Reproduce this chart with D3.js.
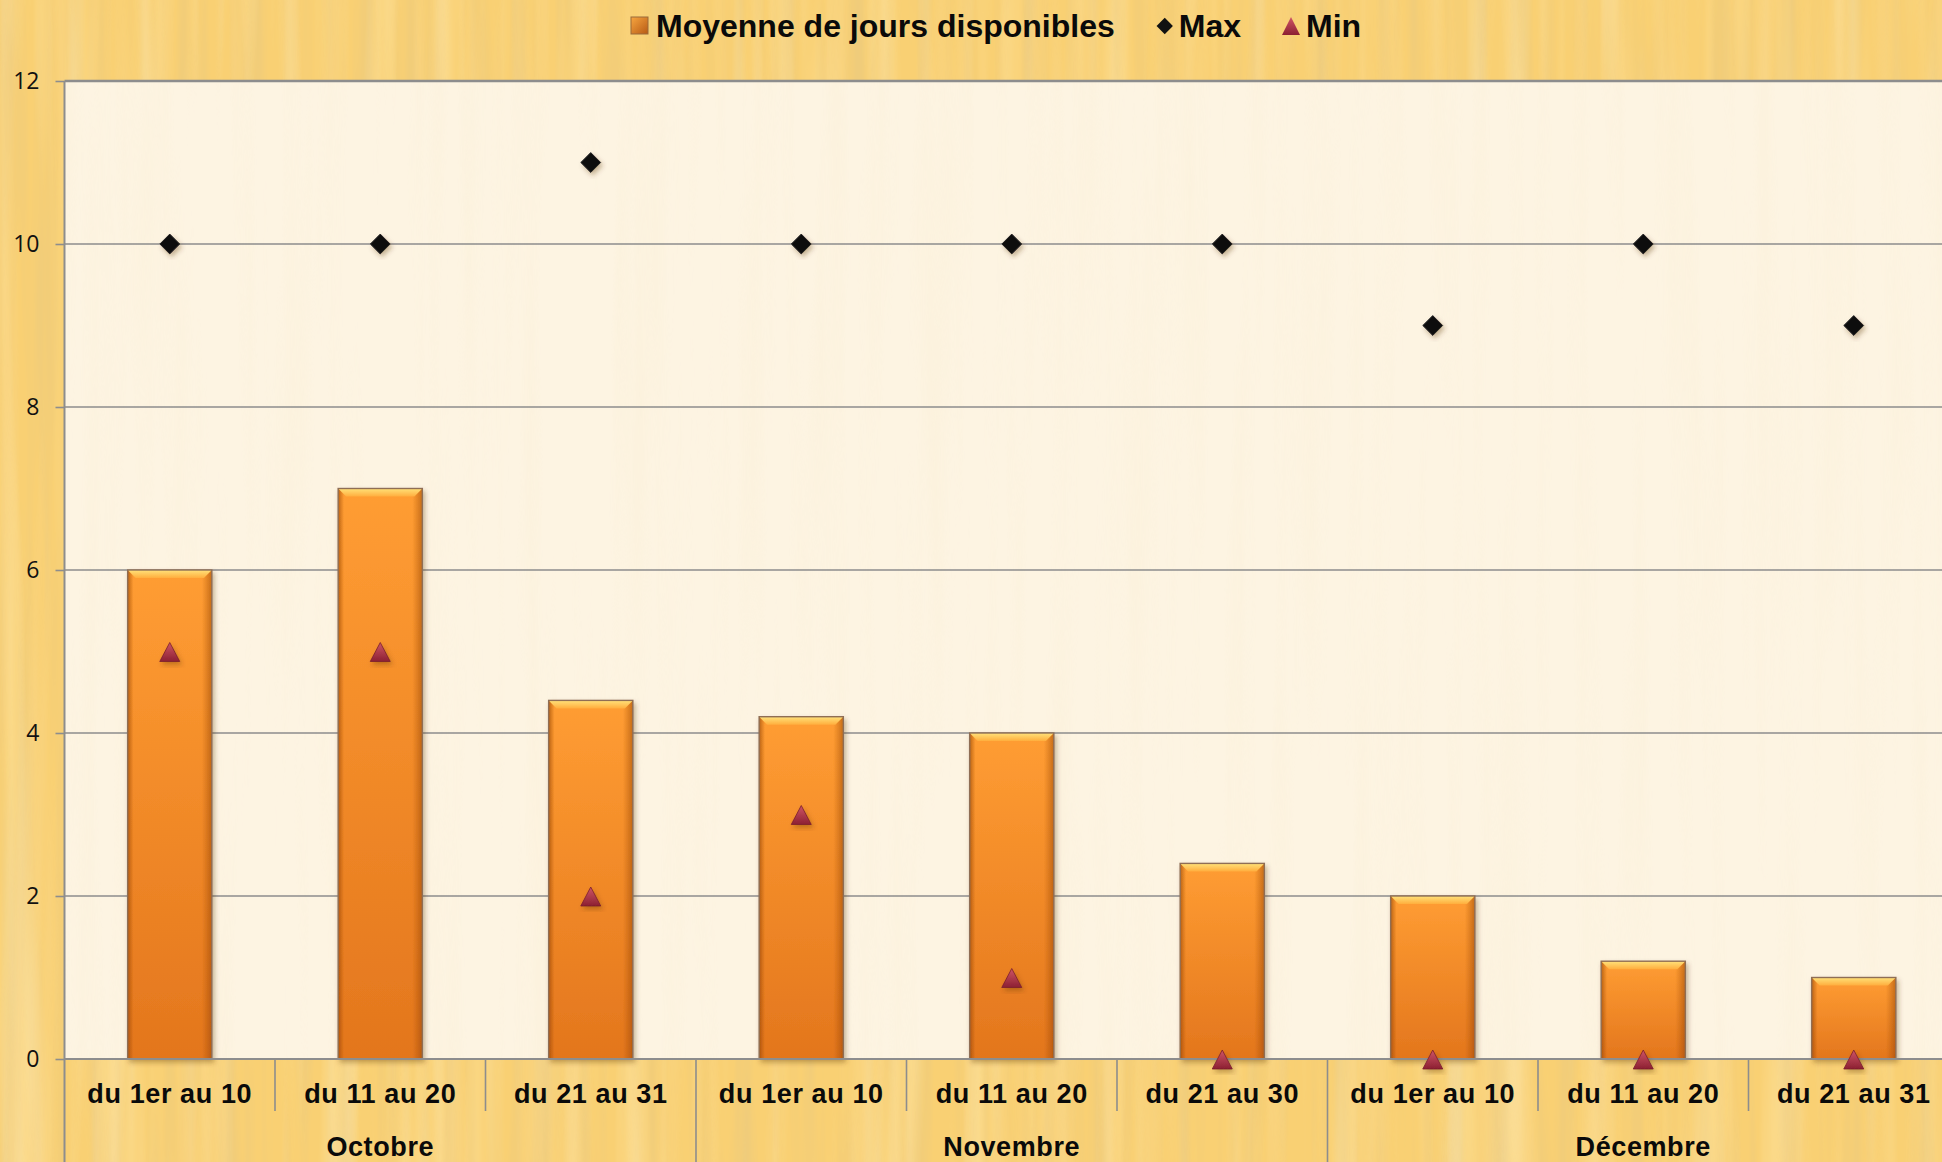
<!DOCTYPE html>
<html>
<head>
<meta charset="utf-8">
<script src="https://cdn.jsdelivr.net/npm/d3@7"></script>
<style>
  body { margin: 0; overflow: hidden; background: #f9d073; }
  svg { display: block; }
  .cat-label { font-family: "Liberation Sans", Arial, sans-serif; font-weight: bold; font-size: 27px; letter-spacing: 0.6px; fill: #0a0a0a; }
  .legend text { font-family: "Liberation Sans", Arial, sans-serif; font-weight: bold; font-size: 32px; fill: #0a0a0a; }
  .y-axis text { font-family: "Open Sans", sans-serif; font-size: 23px; fill: #111; }
</style>
</head>
<body>
<svg id="chart" width="1942" height="1162"></svg>
<script>
// chart data
const categories = ['du 1er au 10', 'du 11 au 20', 'du 21 au 31',
                    'du 1er au 10', 'du 11 au 20', 'du 21 au 30',
                    'du 1er au 10', 'du 11 au 20', 'du 21 au 31'];
const months = ['Octobre', 'Novembre', 'Décembre'];
const moyenne = [6, 7, 4.4, 4.2, 4, 2.4, 2, 1.2, 1];
const maxVals = [10, 10, 11, 10, 10, 10, 9, 10, 9];
const minVals = [5, 5, 2, 3, 1, 0, 0, 0, 0];
const yTicks = [0, 2, 4, 6, 8, 10, 12];
const legendNames = ['Moyenne de jours disponibles', 'Max', 'Min'];

const W = 1942, H = 1162;
const margin = { left: 64.5, top: 81, zero: 1059 };
const step = 210.5;

const svg = d3.select('#chart');
const defs = svg.append('defs');

// wood grain texture
function grainFilter(id, freq, seed, rgb, a, b) {
    const f = defs.append('filter').attr('id', id)
        .attr('x', 0).attr('y', 0).attr('width', '100%').attr('height', '100%')
        .attr('filterUnits', 'userSpaceOnUse');
    f.append('feTurbulence').attr('type', 'fractalNoise')
        .attr('baseFrequency', freq).attr('numOctaves', 3).attr('seed', seed);
    f.append('feColorMatrix').attr('type', 'matrix')
        .attr('values', `0 0 0 0 ${rgb[0]}  0 0 0 0 ${rgb[1]}  0 0 0 0 ${rgb[2]}  ${a} 0 0 0 ${b}`);
}
grainFilter('grainDark', '0.045 0.0018', 7, [0.80, 0.58, 0.22], 1.5, -0.68);
grainFilter('grainLight', '0.03 0.0012', 3, [1, 0.86, 0.5], 1.0, -0.5);
grainFilter('grainPlot', '0.04 0.0015', 11, [0.93, 0.82, 0.6], 1.0, -0.45);

// bar gradients
const gV = defs.append('linearGradient').attr('id', 'barV').attr('x1', 0).attr('y1', 0).attr('x2', 0).attr('y2', 1);
gV.append('stop').attr('offset', '0%').attr('stop-color', '#ff9d33');
gV.append('stop').attr('offset', '100%').attr('stop-color', '#e3761d');

const gH = defs.append('linearGradient').attr('id', 'barH').attr('x1', 0).attr('y1', 0).attr('x2', 1).attr('y2', 0);
[['0%', '#8a3c00', 0.6], ['7%', '#a04800', 0.0], ['88%', '#a04800', 0.0], ['100%', '#8a3c00', 0.5]]
    .forEach(s => gH.append('stop').attr('offset', s[0]).attr('stop-color', s[1]).attr('stop-opacity', s[2]));

const gTop = defs.append('linearGradient').attr('id', 'barTop').attr('x1', 0).attr('y1', 0).attr('x2', 0).attr('y2', 1);
gTop.append('stop').attr('offset', '0%').attr('stop-color', '#ffe27a');
gTop.append('stop').attr('offset', '100%').attr('stop-color', '#ffae3e');

const gTri = defs.append('linearGradient').attr('id', 'triFill').attr('x1', 0).attr('y1', 0).attr('x2', 0).attr('y2', 1);
gTri.append('stop').attr('offset', '0%').attr('stop-color', '#cf5566');
gTri.append('stop').attr('offset', '100%').attr('stop-color', '#8c2032');

const gSw = defs.append('linearGradient').attr('id', 'swatch').attr('x1', 0).attr('y1', 0).attr('x2', 1).attr('y2', 1);
gSw.append('stop').attr('offset', '0%').attr('stop-color', '#f7a640');
gSw.append('stop').attr('offset', '100%').attr('stop-color', '#b75a14');

const shadow = defs.append('filter').attr('id', 'shadow').attr('x', '-30%').attr('y', '-30%').attr('width', '160%').attr('height', '160%');
shadow.append('feDropShadow').attr('dx', 2).attr('dy', 3).attr('stdDeviation', 2.5)
    .attr('flood-color', '#5a3000').attr('flood-opacity', 0.35);

// background
svg.append('rect').attr('width', W).attr('height', H).attr('fill', '#f9d073');
svg.append('rect').attr('width', W).attr('height', H).attr('filter', 'url(#grainDark)');
svg.append('rect').attr('width', W).attr('height', H).attr('filter', 'url(#grainLight)');

// scales
const x = d3.scaleBand()
    .domain(d3.range(categories.length))
    .range([margin.left, margin.left + step * categories.length])
    .paddingInner(0.6).paddingOuter(0.3);
const y = d3.scaleLinear().domain([0, 12]).range([margin.zero, margin.top]);

// plot area
svg.append('rect').attr('x', margin.left).attr('y', y(12))
    .attr('width', W - margin.left).attr('height', y(0) - y(12)).attr('fill', '#fdf4e2');
svg.append('rect').attr('x', margin.left).attr('y', y(12))
    .attr('width', W - margin.left).attr('height', y(0) - y(12))
    .attr('filter', 'url(#grainPlot)').attr('opacity', 0.45);

// gridlines
svg.append('g').selectAll('line')
    .data(yTicks)
    .enter().append('line')
    .attr('x1', margin.left).attr('x2', W)
    .attr('y1', d => y(d)).attr('y2', d => y(d))
    .attr('stroke', '#8d8d8d').attr('stroke-width', d => d === 12 ? 2.5 : 1.6);

// y axis
const yAxis = svg.append('g').attr('class', 'y-axis')
    .attr('transform', `translate(${margin.left},0)`)
    .call(d3.axisLeft(y).tickValues(yTicks).tickSize(9).tickPadding(16));
yAxis.select('.domain').remove();
yAxis.selectAll('line').attr('stroke', '#8d8d8d').attr('stroke-width', 1.6);

svg.append('line')
    .attr('x1', margin.left).attr('x2', margin.left)
    .attr('y1', y(12)).attr('y2', H)
    .attr('stroke', '#8d8d8d').attr('stroke-width', 2);

// category separators
svg.append('g').selectAll('line')
    .data(d3.range(1, categories.length + 1))
    .enter().append('line')
    .attr('x1', i => margin.left + i * step).attr('x2', i => margin.left + i * step)
    .attr('y1', y(0)).attr('y2', i => i % 3 === 0 ? H : y(0) + 52)
    .attr('stroke', '#8d8d8d').attr('stroke-width', 1.6);

// bars
const bars = svg.append('g').selectAll('g')
    .data(moyenne)
    .enter().append('g')
    .attr('filter', 'url(#shadow)');

bars.append('rect')
    .attr('x', (d, i) => x(i)).attr('y', d => y(d))
    .attr('width', x.bandwidth()).attr('height', d => y(0) - y(d))
    .attr('fill', 'url(#barV)');
bars.append('rect')
    .attr('x', (d, i) => x(i)).attr('y', d => y(d))
    .attr('width', x.bandwidth()).attr('height', d => y(0) - y(d))
    .attr('fill', 'url(#barH)');
bars.append('polygon')
    .attr('points', (d, i) => {
        const x0 = x(i), x1 = x(i) + x.bandwidth(), t = y(d), b = 8;
        return [[x0, t], [x1, t], [x1 - b, t + b], [x0 + b, t + b]].join(' ');
    })
    .attr('fill', 'url(#barTop)');
bars.append('rect')
    .attr('x', (d, i) => x(i)).attr('y', d => y(d))
    .attr('width', x.bandwidth()).attr('height', d => y(0) - y(d))
    .attr('fill', 'none').attr('stroke', '#8f6e55').attr('stroke-width', 1.4);

// zero line on top of bars
svg.append('line')
    .attr('x1', margin.left).attr('x2', W)
    .attr('y1', y(0)).attr('y2', y(0))
    .attr('stroke', '#8d8d8d').attr('stroke-width', 2);

const cx = i => x(i) + x.bandwidth() / 2;

// max markers
svg.append('g').selectAll('path')
    .data(maxVals)
    .enter().append('path')
    .attr('d', d3.symbol(d3.symbolDiamond2, 250))
    .attr('transform', (d, i) => `translate(${cx(i)},${y(d)})`)
    .attr('fill', '#111').attr('stroke', '#222').attr('stroke-width', 1)
    .attr('filter', 'url(#shadow)');

// min markers
const tri = 'M0,-11L10,8L-10,8Z';
svg.append('g').selectAll('path')
    .data(minVals)
    .enter().append('path')
    .attr('d', tri)
    .attr('transform', (d, i) => `translate(${cx(i)},${y(d) + 2})`)
    .attr('fill', 'url(#triFill)').attr('stroke', '#7a1e2c').attr('stroke-width', 0.8)
    .attr('filter', 'url(#shadow)');

// category labels
svg.append('g').selectAll('text')
    .data(categories)
    .enter().append('text')
    .attr('class', 'cat-label')
    .attr('x', (d, i) => cx(i)).attr('y', 1103)
    .attr('text-anchor', 'middle')
    .text(d => d);

svg.append('g').selectAll('text')
    .data(months)
    .enter().append('text')
    .attr('class', 'cat-label')
    .attr('x', (d, i) => margin.left + (i * 3 + 1.5) * step).attr('y', 1156)
    .attr('text-anchor', 'middle')
    .text(d => d);

// legend
const legend = svg.append('g').attr('class', 'legend');
let lx = 631;
legend.append('rect').attr('x', lx).attr('y', 17).attr('width', 17).attr('height', 17)
    .attr('fill', 'url(#swatch)').attr('stroke', '#9a6a3a').attr('stroke-width', 1);
let t = legend.append('text').attr('x', lx + 25).attr('y', 37).text(legendNames[0]);
lx = lx + 25 + t.node().getComputedTextLength() + 50;
legend.append('path').attr('d', d3.symbol(d3.symbolDiamond2, 170))
    .attr('transform', `translate(${lx},26)`).attr('fill', '#111');
t = legend.append('text').attr('x', lx + 14).attr('y', 37).text(legendNames[1]);
lx = lx + 14 + t.node().getComputedTextLength() + 50;
legend.append('path').attr('d', 'M0,-10L9,8L-9,8Z')
    .attr('transform', `translate(${lx},27)`).attr('fill', 'url(#triFill)');
legend.append('text').attr('x', lx + 15).attr('y', 37).text(legendNames[2]);
</script>
</body>
</html>
